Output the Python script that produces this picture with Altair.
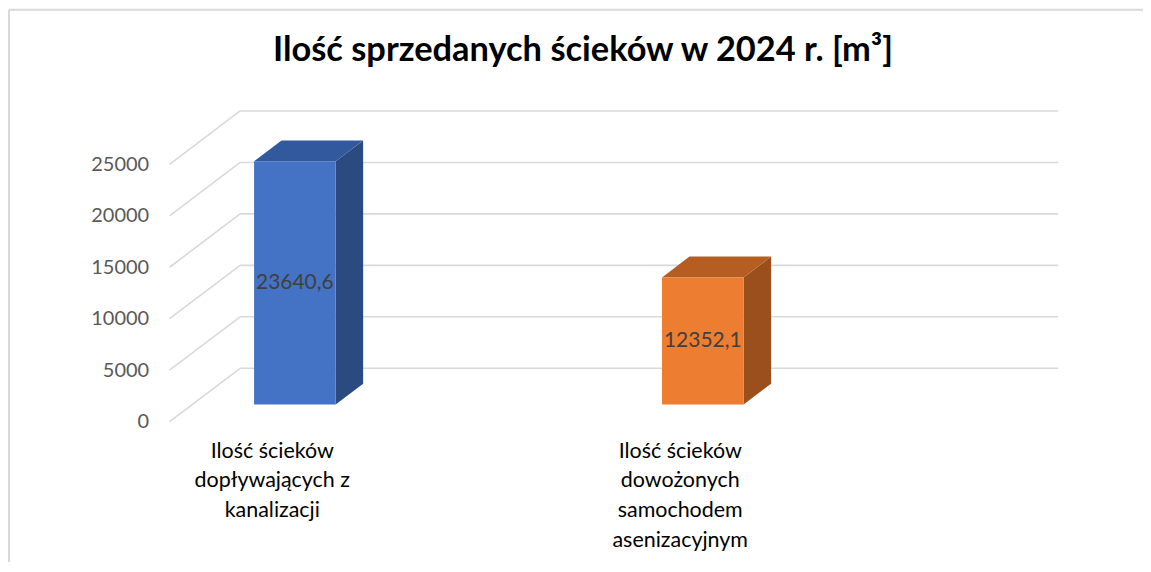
import altair as alt
import pandas as pd

# ---------------- data ----------------
category_lines = [
    ["Ilość ścieków", "dopływających z", "kanalizacji"],
    ["Ilość ścieków", "dowożonych", "samochodem", "asenizacyjnym"],
]
values = [23640.6, 12352.1]
front_colors = ["#4472C4", "#ED7D31"]
top_colors = ["#32599E", "#B65E22"]
side_colors = ["#2A4A80", "#9B4F1D"]
tick_values = [0, 5000, 10000, 15000, 20000, 25000]
title_text = "Ilość sprzedanych ścieków w 2024 r. [m³]"

# ---------------- 3D style constants (scale units) ----------------
X_MIN, X_MAX = -0.2518, 1.9267      # x domain in category-index units
Y_MIN, Y_MAX = 0, 30233             # y domain in value units
WALL_DX, WALL_DY = 0.1729, 5184     # full depth of the back wall
HALF_W = 0.10                       # half bar width
D_FRONT, D_BACK = 0.32, 0.71        # bar depth range (fraction of wall depth)

FONT = "Lato"
GRID = "#D9D9D9"

# ---------------- derived tables ----------------
rows_front, rows_side, rows_top, rows_lab, rows_cat = [], [], [], [], []
for i, v in enumerate(values):
    fx, fy = D_FRONT * WALL_DX, D_FRONT * WALL_DY
    bx, by = D_BACK * WALL_DX, D_BACK * WALL_DY
    rows_front.append(dict(i=i, x=i - HALF_W + fx, x2=i + HALF_W + fx,
                           y=fy, y2=v + fy, c=front_colors[i]))
    rows_side.append(dict(i=i, x=i + HALF_W + fx, y=fy, y2=v + fy, c=side_colors[i]))
    rows_side.append(dict(i=i, x=i + HALF_W + bx, y=by, y2=v + by, c=side_colors[i]))
    rows_top.append(dict(i=i, y=v + fy, x=i - HALF_W + fx, x2=i + HALF_W + fx, c=top_colors[i]))
    rows_top.append(dict(i=i, y=v + by, x=i - HALF_W + bx, x2=i + HALF_W + bx, c=top_colors[i]))
    rows_lab.append(dict(x=i + fx, y=v / 2 + fy,
                         t=f"{v:.1f}".replace(".", ",")))
    rows_cat.append(dict(x=i, y=0, t="\n".join(category_lines[i])))

df_front = pd.DataFrame(rows_front)
df_side = pd.DataFrame(rows_side)
df_top = pd.DataFrame(rows_top)
df_lab = pd.DataFrame(rows_lab)
df_cat = pd.DataFrame(rows_cat)

rows_slant, rows_back = [], []
for t in tick_values:
    rows_slant.append(dict(x=X_MIN, y=t, x2=X_MIN + WALL_DX, y2=t + WALL_DY))
    rows_back.append(dict(x=X_MIN + WALL_DX, y=t + WALL_DY, x2=X_MAX, y2=t + WALL_DY))
df_grid = pd.DataFrame(rows_slant + rows_back)

xs = alt.Scale(domain=[X_MIN, X_MAX], nice=False, zero=False)
ys = alt.Scale(domain=[Y_MIN, Y_MAX], nice=False, zero=False)

X = lambda f="x": alt.X(f"{f}:Q", scale=xs, axis=None)
Yax = alt.Y("y:Q", scale=ys,
            axis=alt.Axis(values=tick_values, format="d", grid=False, domain=False,
                          ticks=False, labelPadding=21, labelFont=FONT, labelFontSize=20,
                          labelColor="#595959", title=None))

one = pd.DataFrame({"k": [0]})
frame_left = alt.Chart(one).mark_rule(color="#D9D9D9", strokeWidth=2).encode(
    x=alt.value(-161), y=alt.value(-101), y2=alt.value(900))
frame_top = alt.Chart(one).mark_rule(color="#D9D9D9", strokeWidth=2).encode(
    y=alt.value(-101), x=alt.value(-161), x2=alt.value(1400))

grid = alt.Chart(df_grid).mark_rule(color=GRID, strokeWidth=1.6).encode(
    x=X(), x2="x2:Q", y=Yax, y2="y2:Q")

front = alt.Chart(df_front).mark_rect().encode(
    x=X(), x2="x2:Q", y=alt.Y("y:Q", scale=ys), y2="y2:Q",
    color=alt.Color("c:N", scale=None))

side = alt.Chart(df_side).mark_area(interpolate="linear").encode(
    x=X(), y=alt.Y("y:Q", scale=ys), y2="y2:Q",
    color=alt.Color("c:N", scale=None), detail="i:N")

top = alt.Chart(df_top).mark_area(orient="horizontal", interpolate="linear").encode(
    y=alt.Y("y:Q", scale=ys), x=X(), x2="x2:Q",
    color=alt.Color("c:N", scale=None), detail="i:N")

labels = alt.Chart(df_lab).mark_text(
    font=FONT, fontSize=21, color="#404040", baseline="middle", align="center"
).encode(x=X(), y=alt.Y("y:Q", scale=ys), text="t:N")

cats = alt.Chart(df_cat).mark_text(
    font=FONT, fontSize=21.5, color="#000000", baseline="top", align="center",
    lineBreak="\n", lineHeight=30, dy=19
).encode(x=X(), y=alt.Y("y:Q", scale=ys), text="t:N")

chart = alt.layer(frame_left, frame_top, grid, side, top, front, labels, cats).properties(
    width=891, height=312,
    background="white",
    title=alt.TitleParams(title_text, font=FONT, fontSize=34.5, fontWeight="bold",
                          color="#000000", anchor="middle", frame="group",
                          dx=-31, offset=-60),
    autosize=alt.AutoSizeParams(type="none"),
    padding={"left": 162, "top": 102, "right": 85, "bottom": 140},
).configure_view(stroke=None)

chart.save("out.html", embed_options={"renderer": "svg", "actions": False})
